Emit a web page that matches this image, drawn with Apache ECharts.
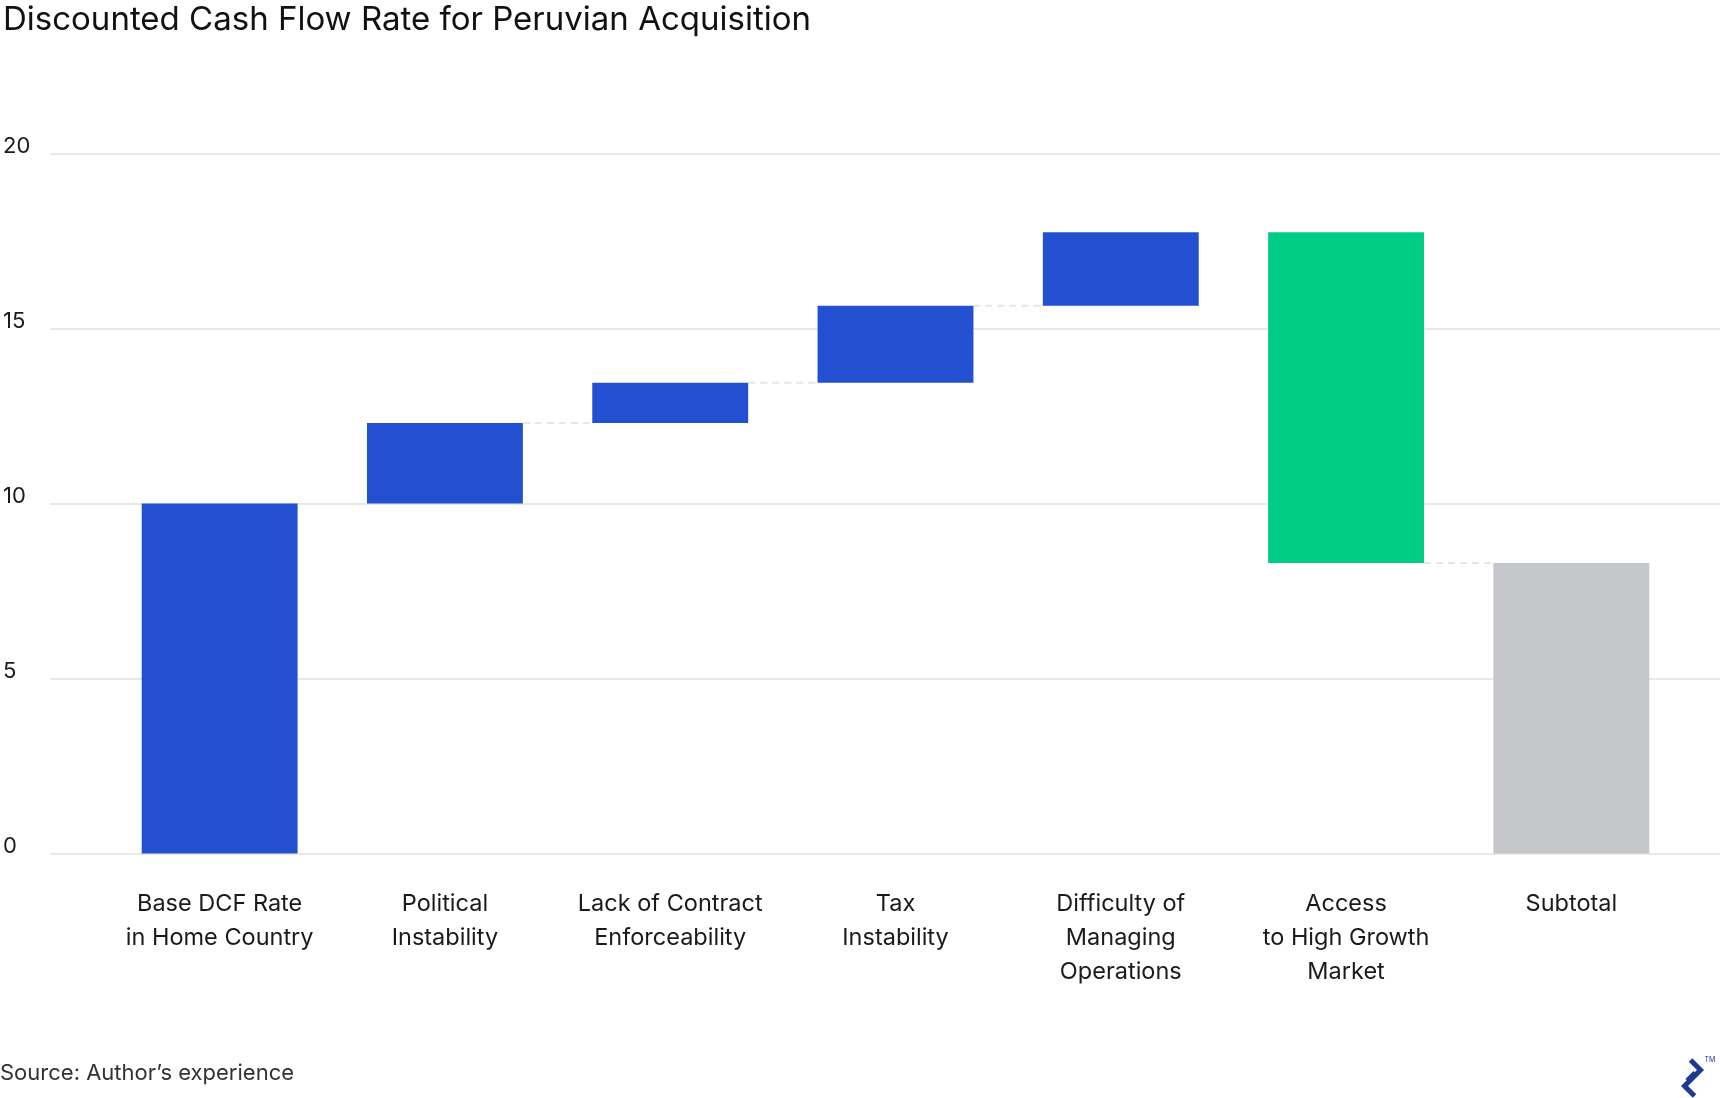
<!DOCTYPE html>
<html>
<head>
<meta charset="utf-8">
<script src="https://cdn.jsdelivr.net/npm/echarts@6/dist/echarts.min.js"></script>
<style>
  html, body { margin: 0; padding: 0; background: #fff; }
  #chart { width: 1720px; height: 1098px; }
</style>
</head>
<body>
<div id="chart"></div>
<script>
const categories = [
  'Base DCF Rate\nin Home Country',
  'Political\nInstability',
  'Lack of Contract\nEnforceability',
  'Tax\nInstability',
  'Difficulty of\nManaging\nOperations',
  'Access\nto High Growth\nMarket',
  'Subtotal'
];
const steps = [10, 2.3, 1.15, 2.2, 2.1, -9.45, 8.3];
const kinds = ['base', 'up', 'up', 'up', 'up', 'down', 'total'];
const connectorFrom = [1, 2, 3, 5];
const yTicks = [0, 5, 10, 15, 20];

const colors = { base: '#2250d0', up: '#2250d0', down: '#00cc85', total: '#c5c6c9' };
const FONT = 'Inter';

// build waterfall pieces
let running = 0;
const lows = [], heights = [], levels = [];
steps.forEach((v, i) => {
  let lo, hi;
  if (kinds[i] === 'base' || kinds[i] === 'total') { lo = 0; hi = v; running = v; }
  else if (v >= 0) { lo = running; hi = running + v; running = hi; }
  else { lo = running + v; hi = running; running = lo; }
  lows.push(lo);
  heights.push({ value: hi - lo, itemStyle: { color: colors[kinds[i]] } });
  levels.push(running);
});
const connectors = connectorFrom.map(i => [i, levels[i]]);

const BAR_FRAC = 0.692;
const chart = echarts.init(document.getElementById('chart'), null, { renderer: 'canvas' });

chart.setOption({
  animation: false,
  backgroundColor: '#fff',
  textStyle: { fontFamily: FONT },
  title: {
    text: 'Discounted Cash Flow Rate for Peruvian Acquisition',
    left: -2, top: -1,
    textStyle: { fontFamily: FONT, fontSize: 33, fontWeight: 'normal', color: '#111' }
  },
  grid: [
    { left: 47, right: 0, top: 153.5, bottom: 244.5 },
    { left: 107, right: 36, top: 153.5, bottom: 244.5 }
  ],
  xAxis: [
    { gridIndex: 0, type: 'value', show: false, min: 0, max: 1 },
    {
      gridIndex: 1, type: 'category', data: categories,
      axisLine: { show: false }, axisTick: { show: false },
      axisLabel: { fontFamily: FONT, fontSize: 23.5, lineHeight: 34, color: '#1a1a1a', margin: 33, interval: 0 }
    }
  ],
  yAxis: [
    {
      gridIndex: 0, type: 'value', min: 0, max: 20, interval: 5,
      axisLine: { show: false }, axisTick: { show: false },
      splitLine: { lineStyle: { color: '#e8e8e8', width: 2 } },
      axisLabel: {
        fontFamily: FONT, fontSize: 22, lineHeight: 14, color: '#1a1a1a', align: 'left', margin: 47,
        verticalAlign: 'bottom',
        formatter: v => yTicks.includes(v) ? String(v) : ''
      }
    },
    { gridIndex: 1, type: 'value', min: 0, max: 20, interval: 5, show: false, splitLine: { show: false } }
  ],
  series: [
    {
      type: 'bar', xAxisIndex: 1, yAxisIndex: 1, stack: 'wf',
      data: lows, itemStyle: { color: 'transparent' }, barWidth: (BAR_FRAC * 100) + '%', silent: true
    },
    {
      type: 'bar', xAxisIndex: 1, yAxisIndex: 1, stack: 'wf',
      data: heights, barWidth: (BAR_FRAC * 100) + '%'
    },
    {
      type: 'custom', xAxisIndex: 1, yAxisIndex: 1, data: connectors, z: 1,
      renderItem: (params, api) => {
        const p = api.coord([api.value(0), api.value(1)]);
        const band = api.size([1, 0])[0];
        const half = band * BAR_FRAC / 2;
        return {
          type: 'line',
          shape: { x1: p[0] + half, y1: p[1], x2: p[0] + band - half, y2: p[1] },
          style: { stroke: '#e6e6e6', lineWidth: 2, lineDash: [7, 5] }
        };
      }
    }
  ],
  graphic: [
    {
      type: 'text', left: 0, top: 1062,
      style: { text: 'Source: Author\u2019s experience', fontFamily: FONT, fontSize: 22, fill: '#333' }
    },
    {
      type: 'group', left: 1682, top: 1056,
      children: [
        { type: 'polyline', shape: { points: [[14, 0], [24, 10], [8, 26], [18, 36]] },
          style: { stroke: '#1f3a8f', lineWidth: 5, fill: null } },
        { type: 'line', shape: { x1: 10, y1: 20, x2: 18, y2: 12 }, style: { stroke: '#1f3a8f', lineWidth: 3 } },
        { type: 'text', x: 28, y: -4, style: { text: 'TM', fontSize: 7, fill: '#1f3a8f', fontFamily: FONT } }
      ]
    }
  ]
});
</script>
</body>
</html>
